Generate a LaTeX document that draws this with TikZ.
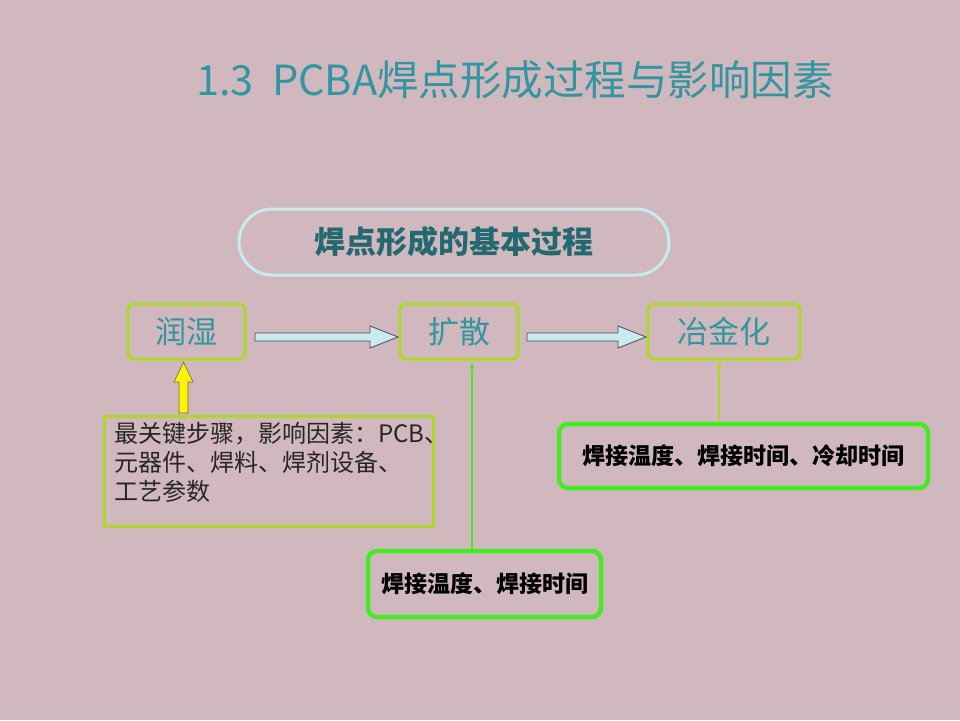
\documentclass[tikz,border=0pt]{standalone}
\usepackage{fontspec}
\newfontfamily\cjk{Noto Sans CJK SC}
\usetikzlibrary{shapes.arrows,arrows.meta}
\definecolor{bg}{RGB}{208,184,190}
\definecolor{teal1}{RGB}{50,150,160}
\definecolor{yg}{RGB}{175,215,40}
\definecolor{bgreen}{RGB}{70,235,40}
\definecolor{lcyan}{RGB}{200,235,240}
\tikzset{
 stepbox/.style={draw=yg,line width=3pt,rounded corners=6pt,minimum height=55pt,font=\cjk\fontsize{31}{34}\selectfont,text=teal1},
 factbox/.style={draw=bgreen,line width=4.5pt,rounded corners=9pt,font=\cjk\bfseries\fontsize{23}{26}\selectfont,text=black},
 blockarr/.style={draw=black!70,fill=lcyan,line width=0.8pt}
}
\begin{document}
\begin{tikzpicture}[x=1pt,y=-1pt]
\fill[bg] (0,0) rectangle (960,720);
\useasboundingbox (0,0) rectangle (960,720);
\node[font=\cjk\fontsize{41.5}{46}\selectfont,text=teal1] (title) at (515,80) {1.3\ \ PCBA焊点形成过程与影响因素};
\node[draw=lcyan,line width=3pt,rounded corners=33pt,minimum width=430pt,minimum height=66pt,font=\cjk\bfseries\fontsize{31}{34}\selectfont,text=teal1!70!black] (oval) at (454,242) {焊点形成的基本过程};
\node[stepbox,minimum width=117pt] (a) at (186.5,331.5) {润湿};
\node[stepbox,minimum width=118pt] (b) at (459,331.5) {扩散};
\node[stepbox,minimum width=152pt] (c) at (724,331.5) {冶金化};
\draw[blockarr] (255,333) -- (370,333) -- (370,326) -- (398,337) -- (370,348) -- (370,341) -- (255,341) -- cycle;
\draw[blockarr] (527,333) -- (618,333) -- (618,326) -- (646,337) -- (618,348) -- (618,341) -- (527,341) -- cycle;
\node[draw=yg,line width=3pt,minimum width=329pt,minimum height=110pt,anchor=north west,inner sep=0pt] (d) at (103,415) {};
\node[anchor=north west,align=left,font=\cjk\fontsize{24}{29}\selectfont,text=black!85,inner sep=0pt] (dt) at (114,422) {最关键步骤，影响因素：PCB、\\元器件、焊料、焊剂设备、\\工艺参数};
\draw[draw=black!60,fill=yellow,line width=0.6pt] (179,413) -- (179,382) -- (174,382) -- (183.5,362) -- (193,382) -- (188,382) -- (188,413) -- cycle;
\node[factbox,minimum width=233pt,minimum height=66pt] (e) at (484.5,584) {焊接温度、焊接时间};
\node[factbox,minimum width=369pt,minimum height=64pt] (f) at (743.5,456) {焊接温度、焊接时间、冷却时间};
\draw[bgreen,line width=1.2pt,-{Stealth[length=7pt,width=5pt]}] (e.north -| 472,0) -- (472,362);
\draw[yg,line width=2pt,-{Stealth[length=7pt,width=6pt]}] (f.north -| 719,0) -- (719,362);
\end{tikzpicture}
\end{document}
